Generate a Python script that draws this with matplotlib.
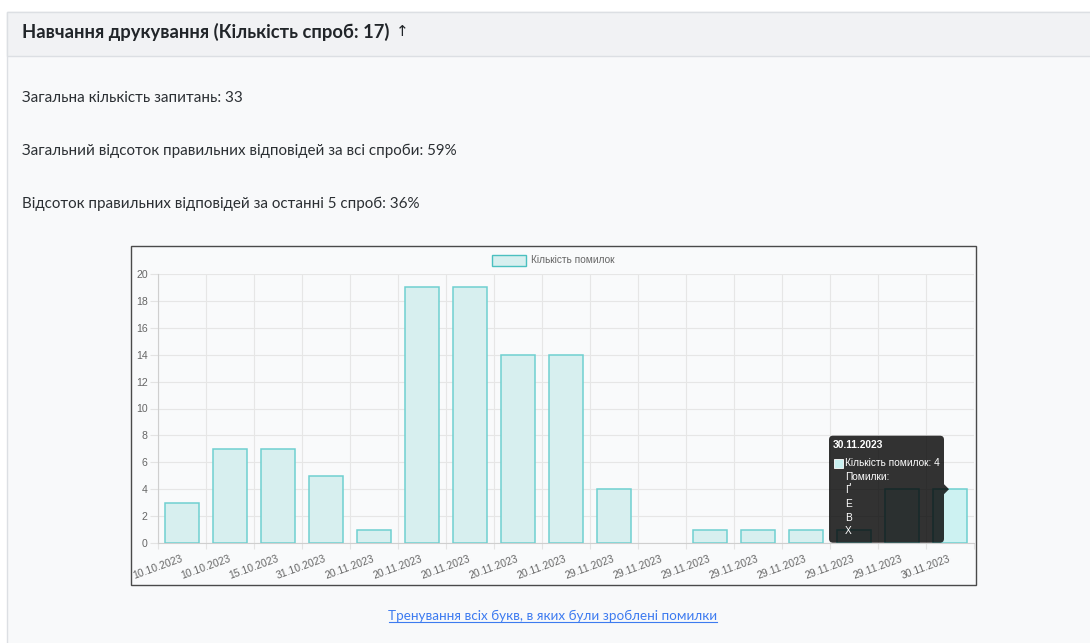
import matplotlib.pyplot as plt
from matplotlib.patches import Rectangle, FancyBboxPatch, Polygon
from matplotlib.ticker import MultipleLocator, FixedLocator

# Дані графіка
dates = ['10.10.2023', '10.10.2023', '15.10.2023', '31.10.2023',
         '20.11.2023', '20.11.2023', '20.11.2023', '20.11.2023', '20.11.2023',
         '29.11.2023', '29.11.2023', '29.11.2023', '29.11.2023', '29.11.2023',
         '29.11.2023', '29.11.2023', '30.11.2023']
mistakes = [3, 7, 7, 5, 1, 19, 19, 14, 14, 4, 0, 1, 1, 1, 1, 4, 4]
hover_index = 16
hover_letters = ['Ґ', 'Е', 'В', 'Х']

title = 'Навчання друкування (Кількість спроб: 17)'
stats = ['Загальна кількість запитань: 33',
         'Загальний відсоток правильних відповідей за всі спроби: 59%',
         'Відсоток правильних відповідей за останні 5 спроб: 36%']
link_text = 'Тренування всіх букв, в яких були зроблені помилки'
legend_label = 'Кількість помилок'

W, H = 1090, 643
fig = plt.figure(figsize=(W / 100, H / 100), dpi=100)
fig.patch.set_facecolor('white')

# Фон сторінки в піксельних координатах
page = fig.add_axes([0, 0, 1, 1])
page.set_xlim(0, W)
page.set_ylim(H, 0)
page.axis('off')

page.add_patch(Rectangle((7, 12), W, H, facecolor='#f8f9fa', edgecolor='#dcdfe3', lw=1))
page.add_patch(Rectangle((7, 12), W, 44, facecolor='#f1f2f4', edgecolor='#dcdfe3', lw=1))
head = page.text(22, 32, title, fontsize=13.2, fontweight='bold', color='#212529',
                 family=['Lato', 'DejaVu Sans'], va='center')
for i, s in enumerate(stats):
    page.text(22, 98 + i * 53, s, fontsize=10.9, color='#2b2f33',
              family=['Lato', 'DejaVu Sans'], va='center')

# Полотно графіка
page.add_patch(Rectangle((131, 246), 845, 339, facecolor='#f9fafb', edgecolor='#4a4a4a', lw=1))
page.text(553, 616, link_text, fontsize=9.7, color='#3d7bf0',
          family=['Lato', 'DejaVu Sans'], ha='center', va='center')
page.plot([389, 717], [622, 622], color='#3d7bf0', lw=0.8)

# Легенда
page.add_patch(Rectangle((492, 255), 34, 11, facecolor='#d7efef', edgecolor='#4bc0c0', lw=1))
page.text(531, 260, legend_label, fontsize=7.3, color='#666666',
          family=['Liberation Sans', 'DejaVu Sans'], va='center')

# Область графіка
ax = fig.add_axes([158 / W, 1 - 543 / H, 816 / W, 269 / H])
ax.set_facecolor('none')
x = list(range(len(mistakes)))
fills = ['#cdf2f2' if i == hover_index else '#d7efef' for i in x]
edges = ['none' if v == 0 else '#6fd0d0' for v in mistakes]
ax.bar(x, mistakes, width=0.7, color=fills, edgecolor=edges, linewidth=1.1, zorder=3)

ax.set_xlim(-0.5, len(mistakes) - 0.5)
ax.set_ylim(0, 20)
ax.yaxis.set_major_locator(MultipleLocator(2))
ax.set_xticks(x)
ax.set_xticklabels(dates, rotation=20, ha='right', va='center', rotation_mode='anchor',
                   fontsize=7.5, color='#666666', family=['Liberation Sans', 'DejaVu Sans'])
ax.xaxis.set_minor_locator(FixedLocator([i - 0.5 for i in range(len(mistakes) + 1)]))
ax.tick_params(axis='x', which='major', length=0, pad=11)
ax.tick_params(axis='x', which='minor', length=4.3, width=0.8, color='#e3e3e3')
ax.tick_params(axis='y', length=5.8, width=0.8, color='#e3e3e3', pad=1.5,
               labelsize=7.6, labelcolor='#666666')
for lbl in ax.get_yticklabels():
    lbl.set_family(['Liberation Sans', 'DejaVu Sans'])
ax.grid(True, axis='y', which='major', color='#e6e6e6', lw=0.8, zorder=0)
ax.grid(True, axis='x', which='minor', color='#e6e6e6', lw=0.8, zorder=0)
for side in ['top', 'right']:
    ax.spines[side].set_visible(False)
for side in ['left', 'bottom']:
    ax.spines[side].set_color('#cfcfcf')
    ax.spines[side].set_linewidth(0.8)

# Тонка стрілка після заголовка
fig.canvas.draw()
hb = head.get_window_extent()
page.text(hb.x1 + 7, 32, '↑', fontsize=11, color='#212529',
          family=['DejaVu Sans'], va='center')

# Підказка над наведеним стовпчиком
tip_x, tip_y = ax.transData.transform((hover_index, mistakes[hover_index]))
tip_y = H - tip_y
over = fig.add_axes([0, 0, 1, 1], zorder=10)
over.set_xlim(0, W)
over.set_ylim(H, 0)
over.axis('off')
bw, bh = 115, 107
right = tip_x - 6
left = right - bw
top = tip_y - bh / 2
over.add_patch(FancyBboxPatch((left, top), bw, bh, boxstyle='round,pad=0,rounding_size=4',
                              facecolor='black', alpha=0.8, edgecolor='none'))
over.add_patch(Polygon([(right, tip_y - 5), (right + 5, tip_y), (right, tip_y + 5)],
                       closed=True, facecolor='black', alpha=0.8, edgecolor='none'))
tfam = ['Liberation Sans', 'DejaVu Sans']
over.text(left + 4, top + 9, dates[hover_index], fontsize=7.4, fontweight='bold',
          color='white', family=tfam, va='center')
over.add_patch(Rectangle((left + 5, top + 23), 9, 9, facecolor='#c8f0f0', edgecolor='white', lw=0.6))
body = [f'{legend_label}: {mistakes[hover_index]}', 'Помилки:'] + hover_letters
for i, line in enumerate(body):
    over.text(left + 16, top + 27.5 + i * 13.6, line, fontsize=7.3, color='white',
              family=tfam, va='center')

fig.savefig('out.png', dpi=100)
